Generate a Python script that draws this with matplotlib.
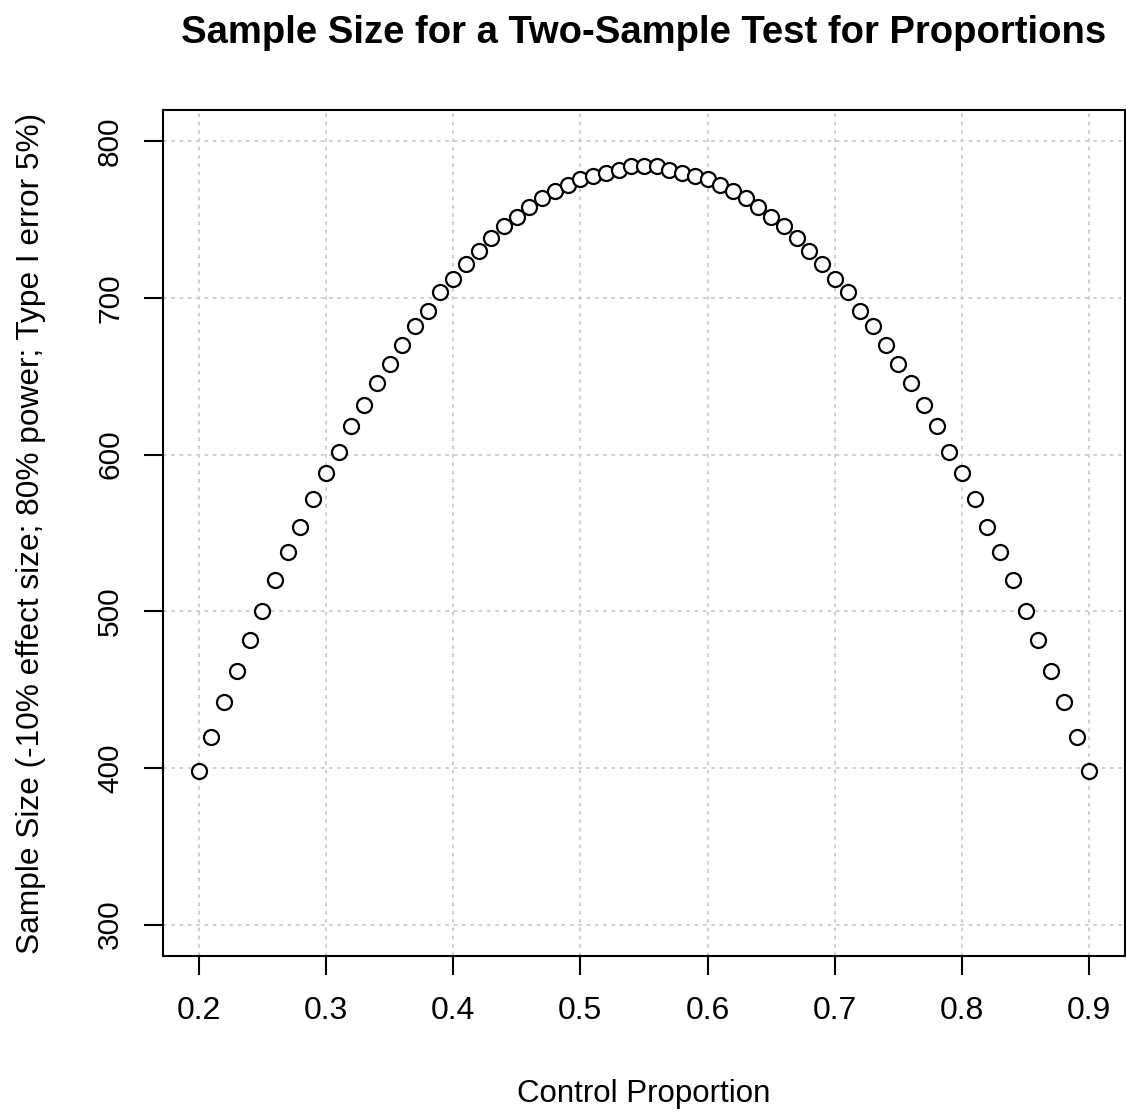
import matplotlib
matplotlib.use("Agg")
import matplotlib.pyplot as plt

plt.rcParams['font.family'] = ['Liberation Sans', 'DejaVu Sans']

# Proporció de control i mida de mostra (llegit del gràfic)
control_prop = [round(0.20 + 0.01 * i, 2) for i in range(71)]
sample_size = [398, 420, 442, 462, 482, 500, 520, 538, 554, 572,
               588, 602, 618, 632, 646, 658, 670, 682, 692, 704,
               712, 722, 730, 738, 746, 752, 758, 764, 768, 772,
               776, 778, 780, 782, 784, 784,
               784, 782, 780, 778, 776, 772, 768, 764, 758, 752,
               746, 738, 730, 722, 712, 704, 692, 682, 670, 658,
               646, 632, 618, 602, 588, 572, 554, 538, 520, 500,
               482, 462, 442, 420, 398]
x_ticks = [0.2, 0.3, 0.4, 0.5, 0.6, 0.7, 0.8, 0.9]
y_ticks = [300, 400, 500, 600, 700, 800]

fig = plt.figure(figsize=(11.26, 11.12), dpi=100)
ax = fig.add_axes([0.1448, 0.1403, 0.8542, 0.7608])

ax.grid(True, color='#cccccc', linestyle=(0, (2, 2.6)), linewidth=1.3)
ax.set_axisbelow(True)
ax.plot(control_prop, sample_size, linestyle='none', marker='o', markersize=10.8,
        markerfacecolor='white', markeredgecolor='black', markeredgewidth=1.6)

ax.set_xlim(0.172, 0.928)
ax.set_ylim(280, 820)
ax.set_xticks(x_ticks)
ax.set_xticklabels([str(t) for t in x_ticks])
ax.set_yticks(y_ticks)
ax.set_yticklabels([str(t) for t in y_ticks], rotation=90, va='center')
ax.tick_params(direction='out', length=14, width=1.5)
ax.tick_params(axis='x', labelsize=23, pad=15)
ax.tick_params(axis='y', labelsize=21.5, pad=14)
for s in ax.spines.values():
    s.set_linewidth(1.5)

# Etiquetes i títol
fig.text(0.572, 0.009, 'Control Proportion', ha='center', va='baseline', fontsize=22.5)
fig.text(0.0275, 0.5207, 'Sample Size (-10% effect size; 80% power; Type I error 5%)',
         rotation=90, ha='center', va='center', fontsize=22.8)
fig.text(0.572, 0.9613, 'Sample Size for a Two-Sample Test for Proportions',
         ha='center', va='baseline', fontsize=27.5, fontweight='bold')

fig.savefig('out.png', dpi=100)
